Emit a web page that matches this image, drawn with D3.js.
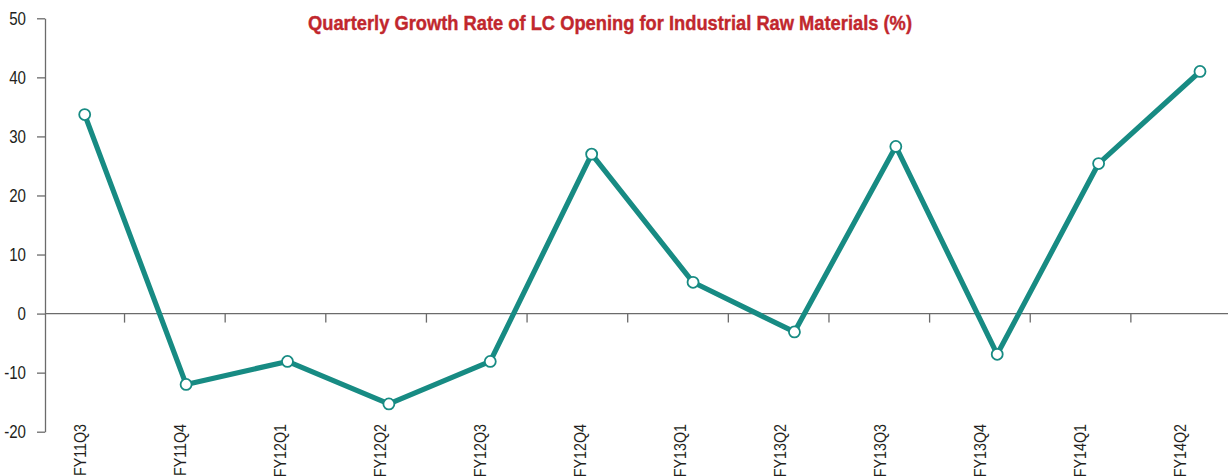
<!DOCTYPE html>
<html>
<head>
<meta charset="utf-8">
<script src="https://cdn.jsdelivr.net/npm/d3@7"></script>
<style>
  html, body { margin: 0; padding: 0; background: #fff; }
  svg { display: block; }
  text { font-family: "Liberation Sans", Arial, sans-serif; }
</style>
</head>
<body>
<svg id="chart" width="1228" height="476"></svg>
<script>
// Quarterly growth rate of LC opening for industrial raw materials (%)
const quarters = ["FY11Q3", "FY11Q4", "FY12Q1", "FY12Q2", "FY12Q3", "FY12Q4",
                  "FY13Q1", "FY13Q2", "FY13Q3", "FY13Q4", "FY14Q1", "FY14Q2"];
const growth = [33.7, -12.0, -8.1, -15.3, -8.1, 27.0, 5.3, -3.1, 28.3, -6.9, 25.4, 41.0];
const yTicks = [-20, -10, 0, 10, 20, 30, 40, 50];
const titleText = "Quarterly Growth Rate of LC Opening for Industrial Raw Materials (%)";

const W = 1228, H = 476;
const axisX = 45;
const svg = d3.select("#chart");

const y = d3.scaleLinear().domain([-20, 50]).range([431.7, 18.3]);
// category bands for the baseline tick marks
const band = d3.scaleBand().domain(quarters).range([23.9, 1231.5]).padding(0);
// marker positions
const xPt = d3.scalePoint().domain(quarters).range([84.7, 1200]);
// category label centres
const xLab = d3.scalePoint().domain(quarters).range([80, 1180]);

const axisColor = "#6b6b6b";
const labelColor = "#231f20";
const squeeze = 0.84; // condensed look for the labels

// y axis (lines only, labels drawn below)
const yAxis = d3.axisLeft(y).tickValues(yTicks).tickSize(8).tickSizeOuter(0).tickFormat("");
const gy = svg.append("g").attr("transform", `translate(${axisX},0)`).call(yAxis);
gy.select(".domain").attr("stroke", axisColor).attr("stroke-width", 1.3);
gy.selectAll(".tick line").attr("stroke", axisColor).attr("stroke-width", 1.3);

svg.append("g").selectAll("text")
  .data(yTicks)
  .join("text")
  .attr("transform", d => `translate(26,${y(d) + 6.3}) scale(${squeeze},1)`)
  .attr("text-anchor", "end")
  .attr("fill", labelColor)
  .style("font-size", "18px")
  .text(d => d);

// zero baseline with category ticks
svg.append("line")
  .attr("x1", axisX).attr("x2", W)
  .attr("y1", y(0)).attr("y2", y(0))
  .attr("stroke", axisColor).attr("stroke-width", 1.3);

svg.append("g").selectAll("line")
  .data(quarters.slice(1))
  .join("line")
  .attr("x1", d => band(d)).attr("x2", d => band(d))
  .attr("y1", y(0)).attr("y2", y(0) + 9)
  .attr("stroke", axisColor).attr("stroke-width", 1.3);

// rotated category labels
svg.append("g").selectAll("text")
  .data(quarters)
  .join("text")
  .attr("transform", d => `translate(${xLab(d) + 6},424) rotate(-90) scale(${squeeze},1)`)
  .attr("text-anchor", "end")
  .attr("fill", labelColor)
  .style("font-size", "17px")
  .text(d => d);

// title
svg.append("text")
  .attr("x", 308).attr("y", 30)
  .attr("textLength", 604)
  .attr("lengthAdjust", "spacingAndGlyphs")
  .attr("fill", "#c1272d")
  .attr("stroke", "#c1272d")
  .attr("stroke-width", 0.4)
  .style("font-size", "20.5px")
  .style("font-weight", "bold")
  .text(titleText);

// series line
const teal = "#178b83";
const line = d3.line().x((d, i) => xPt(quarters[i])).y(d => y(d));
svg.append("path")
  .datum(growth)
  .attr("d", line)
  .attr("fill", "none")
  .attr("stroke", teal)
  .attr("stroke-width", 5.2)
  .attr("stroke-linejoin", "round");

// markers
svg.append("g").selectAll("circle")
  .data(growth)
  .join("circle")
  .attr("cx", (d, i) => xPt(quarters[i]))
  .attr("cy", d => y(d))
  .attr("r", 5.5)
  .attr("fill", "#fff")
  .attr("stroke", teal)
  .attr("stroke-width", 1.8);
</script>
</body>
</html>
